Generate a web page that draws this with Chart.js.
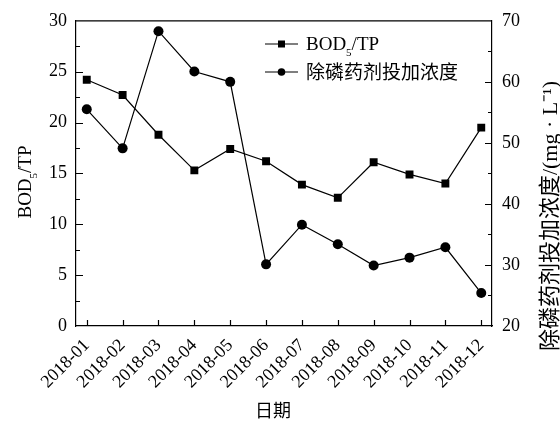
<!DOCTYPE html>
<html>
<head>
<meta charset="utf-8">
<script src="https://cdn.jsdelivr.net/npm/chart.js@4.4.1/dist/chart.umd.min.js"></script>
<style>
  html, body { margin: 0; padding: 0; background: #fff; }
  #wrap { width: 560px; height: 421px; position: relative; }
</style>
</head>
<body>
<div id="wrap"><canvas id="chart"></canvas></div>
<script>
const months = ['2018-01', '2018-02', '2018-03', '2018-04', '2018-05', '2018-06',
  '2018-07', '2018-08', '2018-09', '2018-10', '2018-11', '2018-12'];
const bodTp = [24.2, 22.7, 18.8, 15.3, 17.4, 16.2, 13.9, 12.6, 16.1, 14.9, 14.0, 19.5];
const dosing = [55.5, 49.1, 68.3, 61.7, 60.0, 30.1, 36.6, 33.4, 29.9, 31.2, 32.9, 25.4];
const leftTicks = [0, 5, 10, 15, 20, 25, 30];
const rightTicks = [20, 30, 40, 50, 60, 70];

const FONT = "'Liberation Serif', 'Times New Roman', 'Noto Sans CJK SC', serif";
const CJK = "'Liberation Serif', 'Noto Sans CJK SC', serif";

// inward tick marks, top frame, axis titles and the legend
const decor = {
  id: 'decor',
  afterDraw(chart) {
    const { ctx, chartArea: a, scales } = chart;
    ctx.save();
    ctx.strokeStyle = '#000';
    ctx.lineWidth = 1.2;
    ctx.beginPath();
    ctx.moveTo(a.left, a.top);
    ctx.lineTo(a.right, a.top);
    // left axis ticks
    for (let v = 2.5; v < 30; v += 2.5) {
      const y = Math.round(scales.y.getPixelForValue(v)) + 0.5;
      const len = v % 5 === 0 ? 7 : 4;
      ctx.moveTo(a.left, y);
      ctx.lineTo(a.left + len, y);
    }
    // right axis ticks
    for (let v = 25; v < 70; v += 5) {
      const y = Math.round(scales.y1.getPixelForValue(v)) + 0.5;
      const len = v % 10 === 0 ? 7 : 4;
      ctx.moveTo(a.right, y);
      ctx.lineTo(a.right - len, y);
    }
    // x ticks
    months.forEach((m, i) => {
      const x = Math.round(scales.x.getPixelForValue(i)) + 0.5;
      ctx.moveTo(x, a.bottom);
      ctx.lineTo(x, a.bottom - 6);
    });
    ctx.stroke();

    ctx.fillStyle = '#000';
    ctx.textBaseline = 'alphabetic';

    // left title: BOD5/TP
    ctx.save();
    ctx.translate(31, 182);
    ctx.rotate(-Math.PI / 2);
    drawBod(ctx, 0, 0, 19, 'center');
    ctx.restore();

    // right title
    ctx.save();
    ctx.translate(557, 216);
    ctx.rotate(-Math.PI / 2);
    ctx.font = '22px ' + CJK;
    ctx.textAlign = 'center';
    ctx.fillText('除磷药剂投加浓度/(mg · L\u207B\u00B9)', 0, 0);
    ctx.restore();

    // x title
    ctx.font = '18px ' + CJK;
    ctx.textAlign = 'center';
    ctx.fillText('日期', 273, 417);

    // legend
    const lx = 265, lw = 33;
    const rows = [44, 72];
    rows.forEach((ry, i) => {
      ctx.beginPath();
      ctx.moveTo(lx, ry);
      ctx.lineTo(lx + lw, ry);
      ctx.stroke();
      if (i === 0) {
        ctx.fillRect(lx + lw / 2 - 3.5, ry - 3.5, 7, 7);
      } else {
        ctx.beginPath();
        ctx.arc(lx + lw / 2, ry, 3.8, 0, Math.PI * 2);
        ctx.fill();
      }
    });
    ctx.textAlign = 'left';
    drawBod(ctx, 306, rows[0] + 6, 19, 'left');
    ctx.font = '19px ' + CJK;
    ctx.fillText('除磷药剂投加浓度', 306, rows[1] + 7);
    ctx.restore();
  }
};

function drawBod(ctx, x, y, size, align) {
  const big = size + 'px ' + FONT;
  const small = Math.round(size * 0.6) + 'px ' + FONT;
  ctx.font = big;
  const w1 = ctx.measureText('BOD').width;
  const w3 = ctx.measureText('/TP').width;
  ctx.font = small;
  const w2 = ctx.measureText('5').width;
  let sx = align === 'center' ? x - (w1 + w2 + w3) / 2 : x;
  ctx.textAlign = 'left';
  ctx.font = big;
  ctx.fillText('BOD', sx, y);
  ctx.font = small;
  ctx.fillText('5', sx + w1, y + size * 0.3);
  ctx.font = big;
  ctx.fillText('/TP', sx + w1 + w2, y);
}

new Chart(document.getElementById('chart'), {
  type: 'line',
  data: {
    datasets: [
      {
        label: 'BOD5/TP',
        data: bodTp.map((v, i) => ({ x: i, y: v })),
        yAxisID: 'y',
        borderColor: '#000',
        backgroundColor: '#000',
        borderWidth: 1.2,
        pointStyle: 'rect',
        pointRadius: 5.6,
        pointBorderWidth: 0,
        tension: 0
      },
      {
        label: '除磷药剂投加浓度',
        data: dosing.map((v, i) => ({ x: i, y: v })),
        yAxisID: 'y1',
        borderColor: '#000',
        backgroundColor: '#000',
        borderWidth: 1.2,
        pointStyle: 'circle',
        pointRadius: 5,
        pointBorderWidth: 0,
        tension: 0
      }
    ]
  },
  options: {
    responsive: true,
    maintainAspectRatio: false,
    animation: false,
    layout: { padding: { top: 20, left: 0, right: 0, bottom: 0 } },
    plugins: { legend: { display: false }, tooltip: { enabled: false } },
    scales: {
      x: {
        type: 'linear',
        min: -0.3,
        max: 11.3,
        afterBuildTicks: (scale) => { scale.ticks = months.map((_, i) => ({ value: i })); },
        afterFit: (scale) => { scale.height = 95; },
        ticks: {
          callback: (v) => months[v],
          minRotation: 45,
          maxRotation: 45,
          autoSkip: false,
          padding: 9,
          color: '#000',
          font: { family: FONT, size: 18 }
        },
        grid: { display: true, drawOnChartArea: false, drawTicks: false },
        border: { display: true, color: '#000', width: 1.2 }
      },
      y: {
        position: 'left',
        min: 0,
        max: 30,
        afterBuildTicks: (scale) => { scale.ticks = leftTicks.map((v) => ({ value: v })); },
        afterFit: (scale) => { scale.width = 76; },
        ticks: { padding: 9, color: '#000', font: { family: FONT, size: 18 } },
        grid: { display: true, drawOnChartArea: false, drawTicks: false },
        border: { display: true, color: '#000', width: 1.2 }
      },
      y1: {
        position: 'right',
        min: 20,
        max: 70,
        afterBuildTicks: (scale) => { scale.ticks = rightTicks.map((v) => ({ value: v })); },
        afterFit: (scale) => { scale.width = 68; },
        ticks: { padding: 10, color: '#000', font: { family: FONT, size: 18 } },
        grid: { display: true, drawOnChartArea: false, drawTicks: false },
        border: { display: true, color: '#000', width: 1.2 }
      }
    }
  },
  plugins: [decor]
});
</script>
</body>
</html>
